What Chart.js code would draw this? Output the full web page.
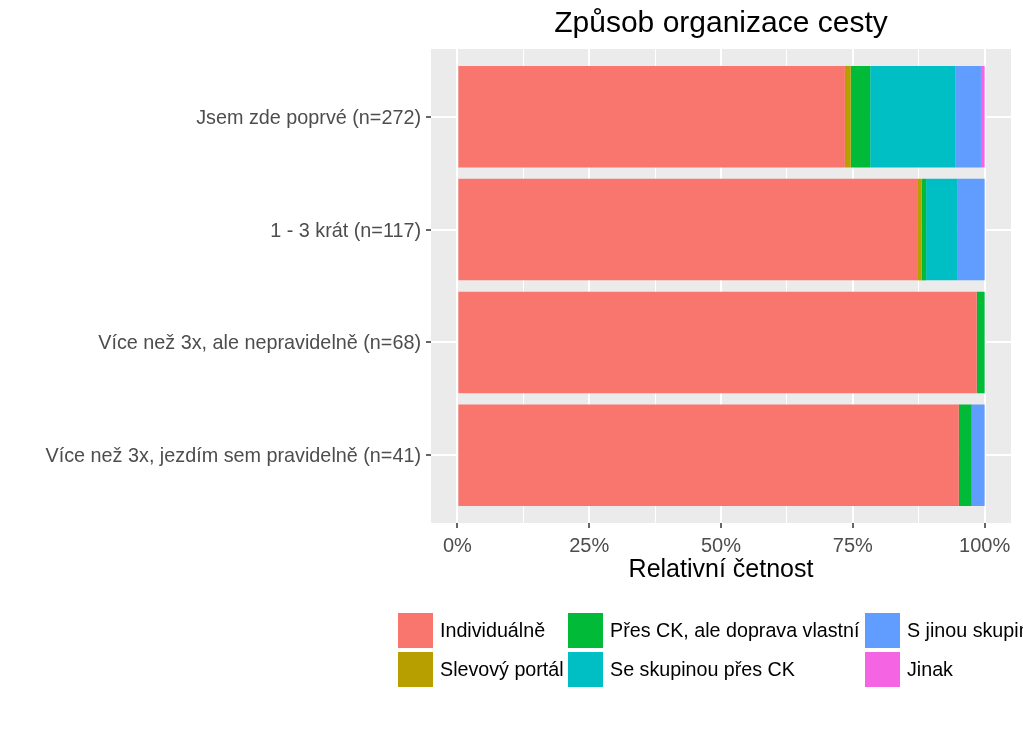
<!DOCTYPE html>
<html><head><meta charset="utf-8">
<script src="https://cdn.jsdelivr.net/npm/chart.js@4/dist/chart.umd.min.js"></script>
<style>html,body{margin:0;padding:0;background:#fff;} canvas{display:block;}</style>
</head><body>
<canvas id="c" width="1023" height="731"></canvas>
<script>
const categories = ['Jsem zde poprvé (n=272)', '1 - 3 krát (n=117)', 'Více než 3x, ale nepravidelně (n=68)', 'Více než 3x, jezdím sem pravidelně (n=41)'];
const seriesNames = ['Individuálně', 'Slevový portál', 'Přes CK, ale doprava vlastní', 'Se skupinou přes CK', 'S jinou skupinou', 'Jinak'];
const individualne = [73.5, 87.2, 98.5, 95.1];
const slevovyPortal = [1.1, 0.85, 0, 0];
const presCK = [3.7, 0.85, 1.5, 2.45];
const seSkupinou = [16.2, 6.0, 0, 0];
const sJinouSkupinou = [4.8, 5.1, 0, 2.45];
const jinak = [0.7, 0, 0, 0];
const colors = ['#F8766D', '#B79F00', '#00BA38', '#00BFC4', '#619CFF', '#F564E3'];
const xMajorTicks = [0, 25, 50, 75, 100];
const xMinorTicks = [12.5, 37.5, 62.5, 87.5];
const xTickLabels = ['0%', '25%', '50%', '75%', '100%'];
const chartTitle = 'Způsob organizace cesty';
const xAxisTitle = 'Relativní četnost';

const series = [individualne, slevovyPortal, presCK, seSkupinou, sJinouSkupinou, jinak];
const FONT = '"Liberation Sans", Arial, sans-serif';

const panelPlugin = {
  id: 'panel',
  beforeDraw(chart) {
    const ctx = chart.ctx, a = chart.chartArea;
    ctx.save();
    ctx.fillStyle = '#ffffff';
    ctx.fillRect(0, 0, chart.width, chart.height);
    ctx.fillStyle = '#EBEBEB';
    ctx.fillRect(a.left, a.top, a.right - a.left, a.bottom - a.top);
    ctx.restore();
  },
  afterDraw(chart) {
    const ctx = chart.ctx, a = chart.chartArea;
    const cx = (a.left + a.right) / 2;
    ctx.save();
    ctx.fillStyle = '#000';
    ctx.textAlign = 'center';
    ctx.textBaseline = 'middle';
    ctx.font = '30px ' + FONT;
    ctx.fillText(chartTitle, cx, 24);
    ctx.font = '25px ' + FONT;
    ctx.fillText(xAxisTitle, cx, 570);
    // legend: 2 rows, column-major
    const colX = [398, 568, 865];
    const rowY = [613, 652];
    const key = 35;
    ctx.font = '19.7px ' + FONT;
    ctx.textAlign = 'left';
    chart.data.datasets.forEach((ds, k) => {
      const col = Math.floor(k / 2), row = k % 2;
      const x = colX[col], y = rowY[row];
      ctx.fillStyle = ds.backgroundColor;
      ctx.fillRect(x, y, key, key);
      ctx.fillStyle = '#000';
      ctx.fillText(ds.label, x + key + 7, y + key / 2 + 1);
    });
    ctx.restore();
  }
};

new Chart(document.getElementById('c'), {
  type: 'bar',
  data: {
    datasets: series.map((vals, k) => ({
      label: seriesNames[k],
      data: vals.map((v, i) => ({ x: v, y: i + 1 })),
      backgroundColor: colors[k],
      borderWidth: 0,
      categoryPercentage: 1,
      barPercentage: 0.9
    }))
  },
  options: {
    indexAxis: 'y',
    responsive: false,
    animation: false,
    devicePixelRatio: 1,
    layout: { padding: { left: 0, top: 49, right: 12, bottom: 0 } },
    plugins: { legend: { display: false }, title: { display: false }, tooltip: { enabled: false } },
    scales: {
      x: {
        type: 'linear', min: -5, max: 105, stacked: true,
        afterBuildTicks: s => { s.ticks = xMajorTicks.concat(xMinorTicks).sort((a, b) => a - b).map(v => ({ value: v })); },
        afterFit: s => { s.height = 731 - 523; },
        border: { display: false },
        grid: {
          color: '#ffffff',
          lineWidth: c => (c.tick && xMajorTicks.includes(c.tick.value)) ? 2 : 1,
          tickColor: c => (c.tick && xMajorTicks.includes(c.tick.value)) ? '#333333' : 'rgba(0,0,0,0)',
          tickWidth: 1.5,
          tickLength: 5
        },
        ticks: {
          autoSkip: false, maxRotation: 0, padding: 6, color: '#4D4D4D',
          font: { family: FONT, size: 20 },
          callback: v => { const i = xMajorTicks.indexOf(v); return i >= 0 ? xTickLabels[i] : ''; }
        }
      },
      y: {
        type: 'linear', min: 0.4, max: 4.6, reverse: true, stacked: true, offset: false,
        afterBuildTicks: s => { s.ticks = categories.map((c, i) => ({ value: i + 1 })); },
        afterFit: s => { s.width = 431; },
        border: { display: false },
        grid: { offset: false, color: '#ffffff', lineWidth: 2, tickColor: '#333333', tickWidth: 1.5, tickLength: 5 },
        ticks: {
          autoSkip: false, padding: 5, labelOffset: 1.5, color: '#4D4D4D',
          font: { family: FONT, size: 19.8 },
          callback: v => categories[v - 1]
        }
      }
    }
  },
  plugins: [panelPlugin]
});
</script>
</body></html>
